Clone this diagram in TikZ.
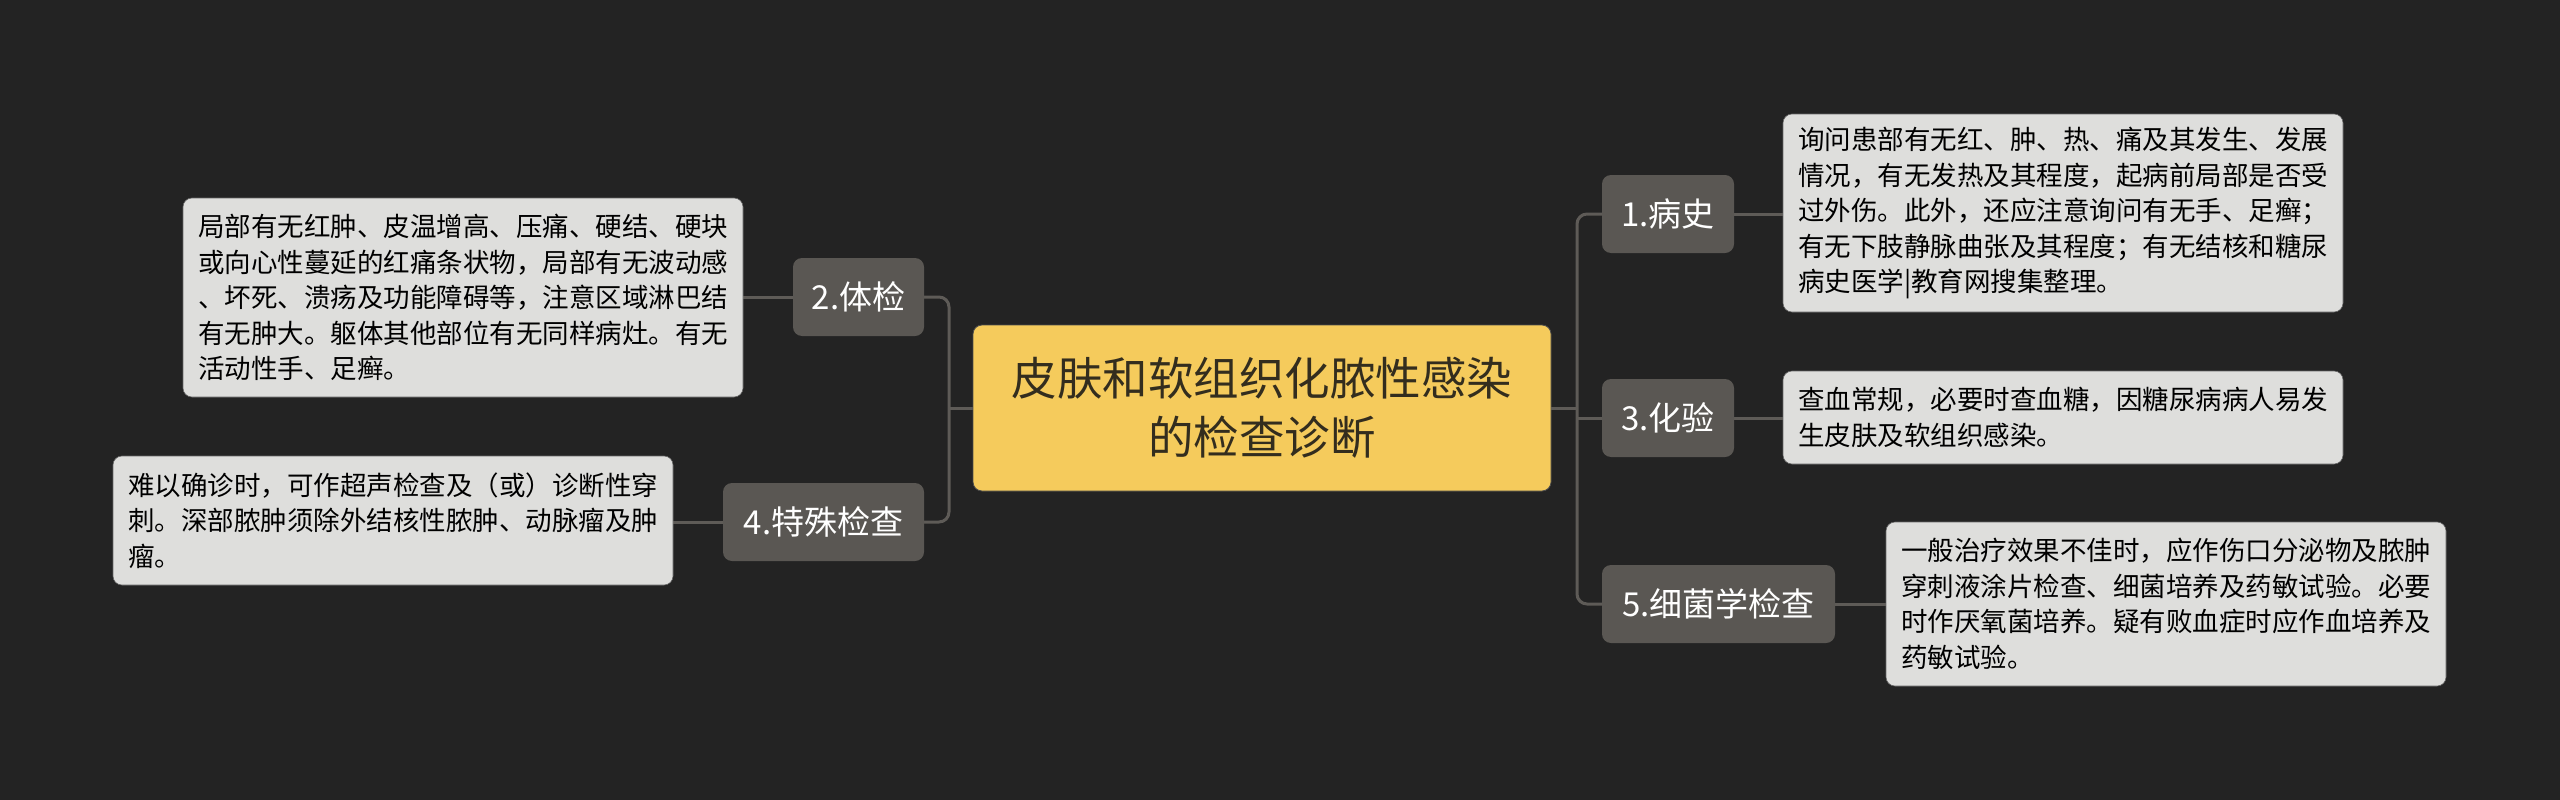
\documentclass[tikz,border=0pt]{standalone}
\usepackage{fontspec}
\setmainfont{Noto Sans CJK SC}
\definecolor{bg}{HTML}{232323}
\definecolor{linec}{HTML}{5E5B57}
\definecolor{branchc}{HTML}{5A5753}
\definecolor{leafc}{HTML}{DEDEDC}
\definecolor{rootc}{HTML}{F5CB5C}
\definecolor{roottext}{HTML}{332D1E}
\pgfdeclarelayer{bottomlayer}
\pgfdeclarelayer{connlayer}
\pgfsetlayers{bottomlayer,connlayer,main}
\tikzset{
  rootbox/.style={fill=rootc, draw=black!70, line width=0.8pt, rounded corners=9, minimum width=578, minimum height=166, align=center, text=roottext, inner sep=0pt, font=\fontsize{45.5}{59}\selectfont},
  branchbox/.style={fill=branchc, rounded corners=9, minimum height=78, align=center, text=white, inner sep=0pt, font=\fontsize{33}{40}\selectfont},
  leafbox/.style={fill=leafc, draw=black!60, line width=0.6pt, rounded corners=9, minimum width=560, text width=530, inner xsep=15, inner ysep=0pt, align=left, text=black, font=\fontsize{26.5}{35.5}\selectfont},
  conn/.style={draw=linec, line width=3pt, rounded corners=10}
}
\begin{document}
\begin{tikzpicture}[x=1pt,y=-1pt]
\begin{pgfonlayer}{bottomlayer}
\fill[bg] (0,0) rectangle (2560,800);
\end{pgfonlayer}
\useasboundingbox (0,0) rectangle (2560,800);

\node[rootbox] (c) at (1262,408) {皮肤和软组织化脓性感染\\的检查诊断};

\node[branchbox, minimum width=132] (b1) at (1668,214) {1.病史};
\node[branchbox, minimum width=132] (b3) at (1668,418) {3.化验};
\node[branchbox, minimum width=233] (b5) at (1718.5,604) {5.细菌学检查};
\node[branchbox, minimum width=131] (b2) at (858.5,297) {2.体检};
\node[branchbox, minimum width=201] (b4) at (823.5,522) {4.特殊检查};

\node[leafbox, minimum height=198] (l1) at (2063,213) {询问患部有无红、肿、热、痛及其发生、发展\\情况，有无发热及其程度，起病前局部是否受\\过外伤。此外，还应注意询问有无手、足癣；\\有无下肢静脉曲张及其程度；有无结核和糖尿\\病史医学|教育网搜集整理。};
\node[leafbox, minimum height=93] (l3) at (2063,417.5) {查血常规，必要时查血糖，因糖尿病病人易发\\生皮肤及软组织感染。};
\node[leafbox, minimum height=164] (l5) at (2166,604) {一般治疗效果不佳时，应作伤口分泌物及脓肿\\穿刺液涂片检查、细菌培养及药敏试验。必要\\时作厌氧菌培养。疑有败血症时应作血培养及\\药敏试验。};
\node[leafbox, minimum height=199] (l2) at (463,297.5) {局部有无红肿、皮温增高、压痛、硬结、硬块\\或向心性蔓延的红痛条状物，局部有无波动感\\、坏死、溃疡及功能障碍等，注意区域淋巴结\\有无肿大。躯体其他部位有无同样病灶。有无\\活动性手、足癣。};
\node[leafbox, minimum height=129] (l4) at (393,520.5) {难以确诊时，可作超声检查及（或）诊断性穿\\刺。深部脓肿须除外结核性脓肿、动脉瘤及肿\\瘤。};

\coordinate (lt) at (949,408);
\coordinate (rt) at (1577,408);

\begin{pgfonlayer}{connlayer}
\draw[conn] (b2.east) -| (lt) |- (b4.east);
\draw[conn] (c.west) -- (lt);
\draw[conn] (b1.west) -| (rt) |- (b5.west);
\draw[conn] (c.east) -- (rt);
\draw[conn] (rt |- b3.west) -- (b3.west);
\draw[conn] (b1.east) -- (b1.east -| l1.west);
\draw[conn] (b3.east) -- (b3.east -| l3.west);
\draw[conn] (b5.east) -- (b5.east -| l5.west);
\draw[conn] (b2.west) -- (b2.west -| l2.east);
\draw[conn] (b4.west) -- (b4.west -| l4.east);
\end{pgfonlayer}
\end{tikzpicture}
\end{document}
